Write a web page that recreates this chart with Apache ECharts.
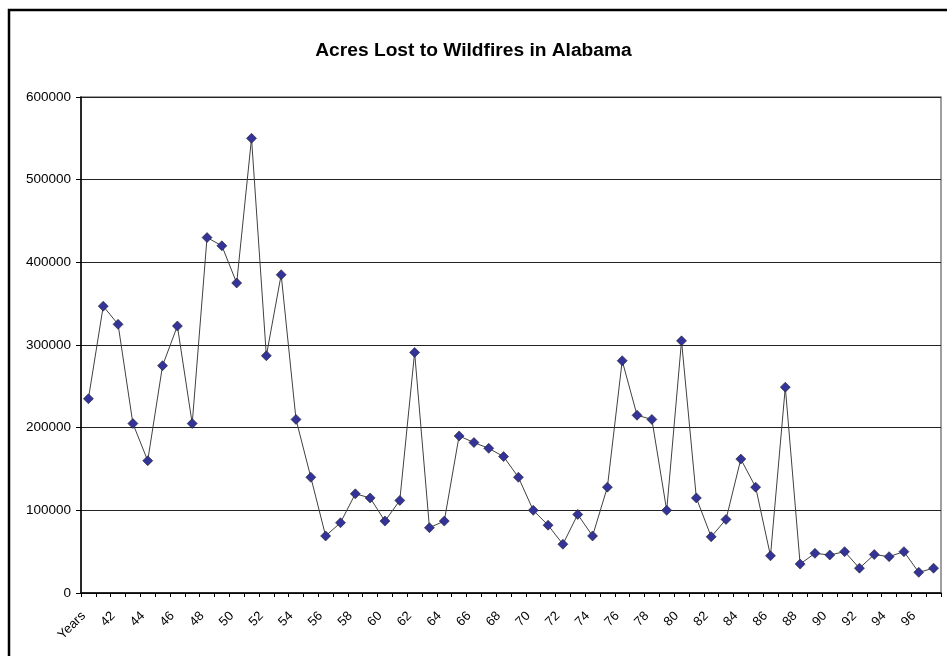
<!DOCTYPE html>
<html>
<head>
<meta charset="utf-8">
<script src="https://cdn.jsdelivr.net/npm/echarts@6/dist/echarts.min.js"></script>
<style>
  html, body { margin: 0; padding: 0; background: #fff; }
  #main { width: 947px; height: 656px; }
</style>
</head>
<body>
<div id="main"></div>
<script>
// categories: header cell "Years" then 41 .. 97
var years = ['Years', '41', '42', '43', '44', '45', '46', '47', '48', '49',
  '50', '51', '52', '53', '54', '55', '56', '57', '58', '59',
  '60', '61', '62', '63', '64', '65', '66', '67', '68', '69',
  '70', '71', '72', '73', '74', '75', '76', '77', '78', '79',
  '80', '81', '82', '83', '84', '85', '86', '87', '88', '89',
  '90', '91', '92', '93', '94', '95', '96', '97'];

// acres lost
var acres = [235000, 347000, 325000, 205000, 160000, 275000, 323000, 205000, 430000, 420000,
  375000, 550000, 287000, 385000, 210000, 140000, 69000, 85000, 120000, 115000,
  87000, 112000, 291000, 79000, 87000, 190000, 182000, 175000, 165000, 140000,
  100000, 82000, 59000, 95000, 69000, 128000, 281000, 215000, 210000, 100000,
  305000, 115000, 68000, 89000, 162000, 128000, 45000, 249000, 35000, 48000,
  46000, 50000, 30000, 46500, 44000, 50000, 25000, 30000];

var yTicks = [0, 100000, 200000, 300000, 400000, 500000, 600000];

var mychart = echarts.init(document.getElementById('main'));
var option = {
  animation: false,
  title: {
    text: 'Acres Lost to Wildfires in Alabama',
    left: 'center',
    top: 36,
    textStyle: {
      fontFamily: 'Liberation Sans, Arial',
      fontSize: 19.2,
      fontWeight: 'bold',
      color: '#000'
    }
  },
  // outer chart frame (runs off the right and bottom of the picture)
  graphic: [{
    type: 'rect',
    shape: { x: 9, y: 10, width: 1000, height: 1000 },
    style: { fill: 'none', stroke: '#000', lineWidth: 2.5 },
    silent: true
  }],
  grid: {
    left: 81,
    right: 6,
    top: 97,
    bottom: 63,
    show: true,
    borderColor: '#808080',
    borderWidth: 1.5
  },
  xAxis: {
    type: 'category',
    data: years,
    boundaryGap: true,
    axisLine: { lineStyle: { color: '#000', width: 1.5 } },
    axisTick: { show: true, interval: 0, length: 4, lineStyle: { color: '#000' } },
    axisLabel: {
      interval: 1,
      rotate: 45,
      margin: 16,
      padding: [0, 7, 0, 0],
      fontFamily: 'Liberation Sans, Arial',
      fontSize: 13,
      color: '#000'
    },
    splitLine: { show: false }
  },
  yAxis: {
    type: 'value',
    min: yTicks[0],
    max: yTicks[yTicks.length - 1],
    interval: 100000,
    axisLine: { show: true, lineStyle: { color: '#000', width: 1.5 } },
    axisTick: { show: true, length: 5, lineStyle: { color: '#000' } },
    axisLabel: {
      margin: 10,
      formatter: function (v) { return String(v); },
      fontFamily: 'Liberation Sans, Arial',
      fontSize: 13.5,
      color: '#000'
    },
    splitLine: { lineStyle: { color: '#222', width: 1 } }
  },
  series: [{
    name: 'Acres',
    type: 'line',
    data: acres,
    symbol: 'diamond',
    symbolSize: 10,
    showSymbol: true,
    showAllSymbol: true,
    lineStyle: { color: '#404040', width: 1 },
    itemStyle: { color: '#333399', borderColor: '#222', borderWidth: 0.6 }
  }]
};
mychart.setOption(option);
</script>
</body>
</html>
